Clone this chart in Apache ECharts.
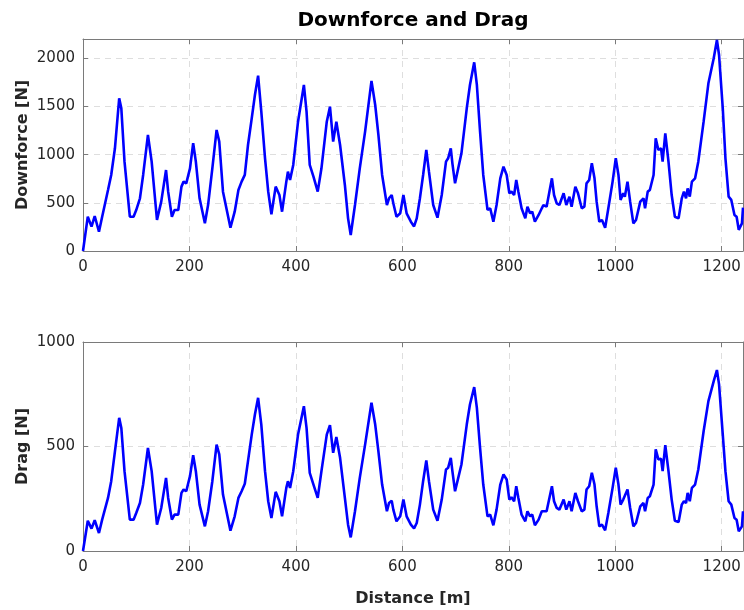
<!DOCTYPE html>
<html>
<head>
<meta charset="utf-8">
<script src="https://cdn.jsdelivr.net/npm/echarts@6/dist/echarts.min.js"></script>
<style>
  html, body { margin: 0; padding: 0; background: #fff; }
  #main { width: 744px; height: 610px; }
</style>
</head>
<body>
<div id="main"></div>
<script>
// distance along the lap [m]
let distance = [
    0, 9, 16, 22, 30, 36, 47, 53, 60, 68, 72, 78, 88, 95, 100, 107, 113, 122, 129, 139,
    147, 156, 160, 167, 172, 179, 185, 189, 194, 201, 207, 212, 219, 229, 235, 243, 251, 256, 263, 277,
    285, 292, 298, 304,
    310, 317, 323, 329, 335, 342, 348, 354, 362, 369, 374, 382, 385, 389, 395, 404, 415, 420, 426, 433,
    436, 441, 448, 458, 464, 470, 476, 483, 492, 498, 503, 511, 520, 530, 542, 549, 555, 562, 571, 575,
    580, 583, 589, 596, 602, 608, 616, 622,
    627, 633, 639, 645, 650, 658, 666, 674, 682, 686, 691, 694, 699, 705, 711, 721, 727, 735, 740, 746,
    752, 760, 765, 771, 777, 784, 790, 796, 801, 805, 810, 814, 818, 824, 831, 835, 840, 844, 849, 856,
    862, 865, 871, 881, 885, 890, 895, 903, 908, 914, 918, 925, 930,
    937, 942, 946, 951, 956, 961, 965, 970, 975, 981, 987, 995, 1001, 1006, 1010, 1015, 1018, 1023, 1028, 1034,
    1039, 1047, 1053, 1056, 1061, 1065, 1072, 1076, 1081, 1086, 1089, 1094, 1100, 1106, 1112, 1119, 1125, 1129, 1133, 1136,
    1140, 1144, 1150, 1156, 1166, 1175, 1185, 1191, 1195, 1202, 1207, 1213, 1218, 1224, 1228, 1232, 1238, 1240
];

// downforce [N]
let downforce = [
    0, 356, 253, 363, 200, 356, 633, 789, 1066, 1585, 1480, 927, 356, 356, 425, 547, 789, 1204, 927, 322,
    512, 840, 616, 356, 425, 425, 668, 720, 702, 858, 1118, 927, 547, 287, 477, 858, 1256, 1135, 616, 242,
    408, 633, 720, 790,
    1100, 1377, 1619, 1820, 1446, 962, 616, 381, 668, 581, 408, 720, 823, 737, 893, 1342, 1723, 1446, 893, 772,
    754, 616, 858, 1342, 1498, 1135, 1342, 1100, 685, 339, 166, 477, 858, 1239, 1765, 1515, 1204, 789, 477, 547,
    581, 495, 356, 391, 581, 391, 304, 255,
    339, 547, 789, 1048, 823, 477, 346, 581, 927, 962, 1066, 910, 702, 858, 1014, 1481, 1723, 1958, 1723, 1239,
    789, 426, 443, 304, 477, 754, 875, 789, 599, 616, 581, 737, 616, 443, 339, 460, 391, 408, 304, 374,
    443, 477, 460, 754, 581, 495, 477, 599, 477, 564, 460, 668, 599,
    443, 460, 702, 737, 910, 754, 512, 304, 322, 242, 443, 720, 962, 789, 530, 599, 564, 720, 512, 287,
    322, 512, 547, 443, 616, 633, 789, 1170, 1048, 1066, 927, 1221, 927, 581, 356, 339, 547, 616, 547, 650,
    564, 720, 754, 927, 1342, 1740, 2000, 2190, 2034, 1481, 962, 564, 530, 374, 356, 220, 287, 450
];

// drag [N]
let drag = [
    0, 145, 107, 147, 86, 150, 254, 334, 477, 637, 589, 382, 150, 150, 182, 230, 318, 493, 382, 126,
    206, 350, 254, 150, 174, 174, 278, 294, 286, 358, 458, 382, 222, 118, 190, 334, 509, 462, 270, 97,
    166, 254, 286, 322,
    430, 557, 653, 733, 605, 382, 238, 158, 283, 238, 166, 302, 334, 302, 382, 557, 693, 589, 374, 318,
    310, 254, 382, 557, 602, 470, 545, 446, 254, 126, 65, 190, 350, 509, 709, 605, 477, 318, 190, 230,
    241, 198, 142, 166, 246, 166, 126, 108,
    134, 222, 334, 433, 334, 198, 145, 246, 390, 398, 446, 382, 286, 350, 414, 605, 701, 784, 685, 493,
    318, 166, 174, 123, 198, 318, 366, 342, 246, 257, 238, 310, 254, 174, 142, 190, 166, 174, 123, 150,
    190, 198, 190, 310, 238, 206, 198, 246, 198, 238, 190, 278, 238,
    190, 198, 294, 310, 374, 318, 214, 118, 126, 99, 182, 302, 398, 318, 222, 246, 238, 294, 206, 118,
    134, 214, 230, 190, 254, 262, 318, 486, 438, 442, 382, 506, 382, 246, 145, 139, 222, 238, 230, 278,
    238, 302, 318, 390, 573, 717, 813, 866, 797, 557, 382, 238, 222, 158, 150, 94, 118, 190
];

let fontFamily = 'DejaVu Sans';
let axisColor = '#7a7a7a';
let textColor = '#262626';

function pairs(xs, ys) {
    return xs.map((x, i) => [x, ys[i]]);
}

// plain numbers, no thousands separator
function plain(v) {
    return String(v);
}

// one bottom/top x axis for a grid
function makeXAxis(gridIndex, position, withLabels, name) {
    return {
        type: 'value',
        gridIndex: gridIndex,
        position: position,
        min: 0,
        max: 1240,
        interval: 200,
        name: name || '',
        nameLocation: 'middle',
        nameGap: 40,
        nameTextStyle: {fontFamily: fontFamily, fontSize: 16, fontWeight: 'bold', color: textColor},
        axisLine: {show: true, onZero: false, lineStyle: {color: axisColor, width: 1}},
        axisTick: {show: true, inside: true, length: 5, lineStyle: {color: axisColor}},
        axisLabel: {show: withLabels, showMaxLabel: false, margin: 9, formatter: plain,
            fontFamily: fontFamily, fontSize: 15, color: textColor},
        splitLine: {show: withLabels, lineStyle: {color: '#dedede', type: [6, 5], width: 1}}
    };
}

function makeYAxis(gridIndex, position, withLabels, max, interval, name) {
    return {
        type: 'value',
        gridIndex: gridIndex,
        position: position,
        min: 0,
        max: max,
        interval: interval,
        name: name || '',
        nameLocation: 'middle',
        nameRotate: 90,
        nameGap: 52,
        nameMoveOverlap: false,
        nameTextStyle: {fontFamily: fontFamily, fontSize: 16, fontWeight: 'bold', color: textColor},
        axisLine: {show: true, onZero: false, lineStyle: {color: axisColor, width: 1}},
        axisTick: {show: true, inside: true, length: 5, lineStyle: {color: axisColor}},
        axisLabel: {show: withLabels, showMaxLabel: max % interval === 0, margin: 8, formatter: plain,
            fontFamily: fontFamily, fontSize: 15, color: textColor},
        splitLine: {show: withLabels, lineStyle: {color: '#dedede', type: [6, 5], width: 1}}
    };
}

let myChart = echarts.init(document.getElementById('main'), null, {renderer: 'canvas'});

let option = {
    animation: false,
    backgroundColor: '#ffffff',
    graphic: [
        {
            type: 'text',
            x: 413,
            y: 21,
            style: {
                text: 'Downforce and Drag',
                font: 'bold 20px "DejaVu Sans"',
                fill: '#000000',
                align: 'center',
                verticalAlign: 'middle',
                textAlign: 'center',
                textVerticalAlign: 'middle'
            }
        }
    ],
    grid: [
        {left: 83, right: 1, top: 39, height: 212},
        {left: 83, right: 1, top: 342, height: 209}
    ],
    xAxis: [
        makeXAxis(0, 'bottom', true),
        makeXAxis(0, 'top', false),
        makeXAxis(1, 'bottom', true, 'Distance [m]'),
        makeXAxis(1, 'top', false)
    ],
    yAxis: [
        makeYAxis(0, 'left', true, 2200, 500, 'Downforce [N]'),
        makeYAxis(0, 'right', false, 2200, 500),
        makeYAxis(1, 'left', true, 1000, 500, 'Drag [N]'),
        makeYAxis(1, 'right', false, 1000, 500)
    ],
    series: [
        {
            name: 'Downforce',
            type: 'line',
            xAxisIndex: 0,
            yAxisIndex: 0,
            showSymbol: false,
            lineStyle: {color: '#0000ff', width: 2.6},
            data: pairs(distance, downforce)
        },
        {
            name: 'Drag',
            type: 'line',
            xAxisIndex: 2,
            yAxisIndex: 2,
            showSymbol: false,
            lineStyle: {color: '#0000ff', width: 2.6},
            data: pairs(distance, drag)
        }
    ]
};

myChart.setOption(option);
</script>
</body>
</html>
